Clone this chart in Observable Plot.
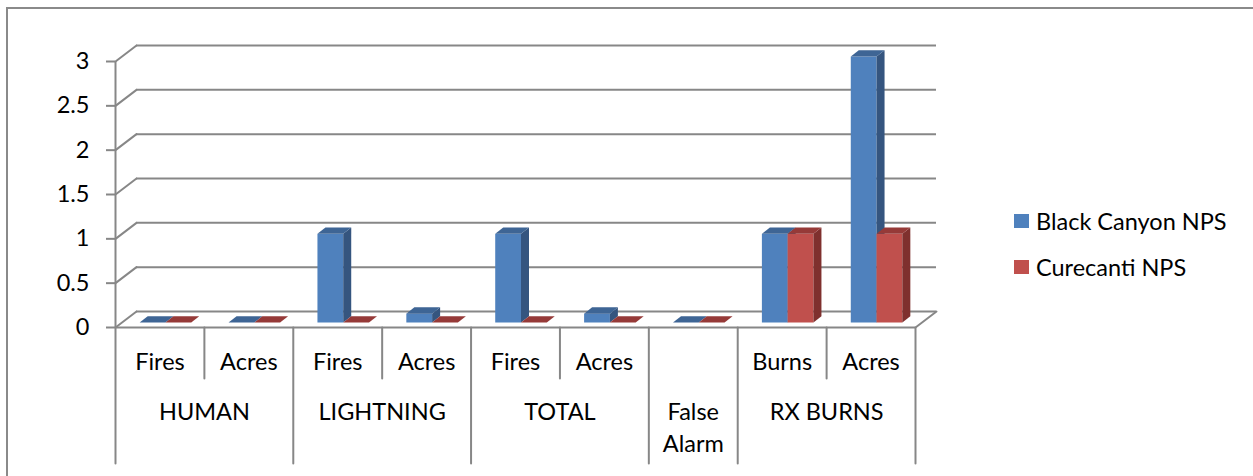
<!DOCTYPE html>
<html>
<head>
<meta charset="utf-8">
<script src="https://cdn.jsdelivr.net/npm/d3@7"></script>
<script src="https://cdn.jsdelivr.net/npm/@observablehq/plot@0.6"></script>
<style>
html,body{margin:0;padding:0;overflow:hidden;background:#fff;}
#wrap{position:relative;width:1253px;height:476px;font-family:Lato,"Open Sans",sans-serif;}
#border{position:absolute;left:6px;top:7px;width:1300px;height:520px;border:2px solid #8a8a8a;box-sizing:border-box;pointer-events:none;}
#chart{position:absolute;left:0;top:0;}
#legend{position:absolute;left:1014px;top:204px;font-size:23.5px;color:#000;}
.li{display:flex;align-items:center;height:34px;margin-bottom:12px;}
.sw{width:15px;height:14px;margin-right:7px;}
</style>
</head>
<body>
<div id="wrap"><div id="chart"></div><div id="legend"></div><div id="border"></div></div>
<script>
// ---- data ----
const subLabels = ["Fires","Acres","Fires","Acres","Fires","Acres","","Burns","Acres"];
const groups = ["HUMAN","LIGHTNING","TOTAL","False\nAlarm","RX BURNS"];
const groupSpans = [2,2,2,1,2];
const series = ["Black Canyon NPS","Curecanti NPS"];
const blackCanyon = [0,0,1,0.1,1,0.1,0,1,3];
const curecanti = [0,0,0,0,0,0,0,1,1];
const yTicks = [0,0.5,1,1.5,2,2.5,3];

// ---- styles ----
const frontCol = ["#4F81BD","#C0504D"];
const sideCol = ["#35557f","#7f302e"];
const topCol = ["#3e6595","#963a38"];
const gridCol = "#878787";
const fs = 23.5;
const floorDepth = {x:21, y:-16};
const barOff = {x:6, y:-4.5};
const barDepth = {x:8, y:-6.3};
const barW = 0.29;

const nCat = subLabels.length;
const bars = [];
[blackCanyon, curecanti].forEach((vals, s) => {
  vals.forEach((v, i) => {
    const x1 = i + 0.5 + (s - 1) * barW;
    bars.push({s, i, value: v, x1, x2: x1 + barW});
  });
});

// group boundaries
const groupBounds = [0];
const groupCenters = [];
let acc = 0;
groupSpans.forEach(n => { groupCenters.push(acc + n/2); acc += n; groupBounds.push(acc); });
const innerBounds = [];
acc = 0;
groupSpans.forEach(n => { for (let k = 1; k < n; k++) innerBounds.push(acc + k); acc += n; });

const lineShape = {draw(ctx, l) { ctx.moveTo(0, 0); ctx.lineTo(0, -l); }};
const dLen = Math.hypot(floorDepth.x, floorDepth.y);
const dRot = Math.atan2(floorDepth.x, -floorDepth.y) * 180 / Math.PI;

function prisms(index, scales, values) {
  const g = d3.create("svg:g");
  for (const i of index) {
    const s = bars[i].s;
    const xl = values.x1[i] + barOff.x, xr = values.x2[i] + barOff.x;
    const yb = values.y1[i] + barOff.y, yt = values.y2[i] + barOff.y;
    const dx = barDepth.x, dy = barDepth.y;
    if (yb - yt > 0) {
      g.append("rect").attr("x", xl).attr("y", yt).attr("width", xr - xl).attr("height", yb - yt).attr("fill", frontCol[s]);
      g.append("path").attr("d", `M${xr},${yb}L${xr+dx},${yb+dy}L${xr+dx},${yt+dy}L${xr},${yt}Z`).attr("fill", sideCol[s]);
    }
    g.append("path").attr("d", `M${xl},${yt}L${xr},${yt}L${xr+dx},${yt+dy}L${xl+dx},${yt+dy}Z`).attr("fill", topCol[s]);
  }
  return g.node();
}

const plot = Plot.plot({
  width: 1253, height: 476,
  marginLeft: 115, marginRight: 338, marginTop: 61, marginBottom: 149,
  x: {domain: [0, nCat], axis: null},
  y: {domain: [0, 3]},
  style: {fontFamily: "Lato, 'Open Sans', sans-serif", fontSize: fs + "px", background: "transparent", overflow: "visible", color: "#000"},
  marks: [
    // back wall gridlines (incl. floor back edge)
    Plot.ruleY(yTicks, {y: d => d, x1: 0, x2: nCat, dx: floorDepth.x, dy: floorDepth.y, stroke: gridCol, strokeWidth: 2}),
    // side-wall diagonals
    Plot.vector(yTicks, {x: 0, y: d => d, length: dLen, rotate: dRot, anchor: "start", shape: lineShape, stroke: gridCol, strokeWidth: 2}),
    // floor right edge
    Plot.vector([nCat], {x: d => d, y: 0, length: dLen, rotate: dRot, anchor: "start", shape: lineShape, stroke: gridCol, strokeWidth: 2}),
    // floor front edge and front y axis line
    Plot.ruleY([0], {stroke: gridCol, strokeWidth: 2}),
    Plot.ruleX([0], {stroke: gridCol, strokeWidth: 2}),
    // y axis ticks and labels
    Plot.axisY(yTicks, {tickSize: 9, tickPadding: 17, stroke: gridCol, strokeWidth: 2, fill: "#000", fontSize: fs, label: null, tickFormat: d => String(d)}),
    // category table lines
    Plot.vector(innerBounds, {x: d => d, y: 0, length: 51, rotate: 180, anchor: "start", shape: lineShape, stroke: gridCol, strokeWidth: 2}),
    Plot.vector(groupBounds, {x: d => d, y: 0, length: 136, rotate: 180, anchor: "start", shape: lineShape, stroke: gridCol, strokeWidth: 2}),
    // category labels
    Plot.text(subLabels, {x: (d, i) => i + 0.5, y: 0, dy: 35, text: d => d, fontSize: fs, fill: "#000"}),
    Plot.text(groups, {x: (d, i) => groupCenters[i], y: 0, dy: 70, text: d => d, lineAnchor: "top", lineHeight: 1.36, fontSize: fs, fill: "#000"}),
    // 3D bars
    Plot.rect(bars, {x1: "x1", x2: "x2", y1: 0, y2: "value", render: prisms})
  ]
});
document.getElementById("chart").appendChild(plot);

const leg = document.getElementById("legend");
series.forEach((name, s) => {
  const row = document.createElement("div");
  row.className = "li";
  const sw = document.createElement("div");
  sw.className = "sw"; sw.style.background = frontCol[s];
  const t = document.createElement("span");
  t.textContent = name;
  row.appendChild(sw); row.appendChild(t);
  leg.appendChild(row);
});
</script>
</body>
</html>
